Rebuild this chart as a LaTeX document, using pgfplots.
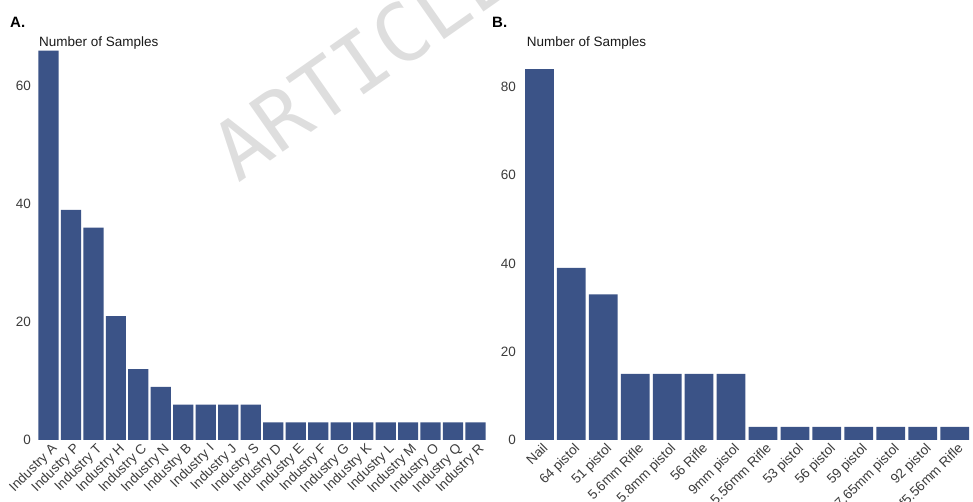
\documentclass[border=0pt]{standalone}
\usepackage{pgfplots}
\pgfplotsset{compat=1.18}
\usepackage{fontspec}
\setmainfont{Liberation Sans}
\newfontfamily\wmfont{DejaVu Sans Mono}
\definecolor{barblue}{RGB}{59,83,135}
\definecolor{ticktext}{RGB}{60,60,60}
\definecolor{wm}{RGB}{222,222,222}
\pgfplotsset{
  panel/.style={
    anchor=south west, scale only axis,
    ybar, bar width=0.9,
    ymin=0,
    axis line style={draw=none},
    major tick length=0pt,
    tick style={draw=none},
    /pgf/number format/assume math mode=true,
    tick label style={font=\fontsize{13.5}{16}\selectfont, text=ticktext},
    yticklabel style={anchor=east, inner sep=0pt, xshift=-6pt},
    xticklabel style={rotate=45, anchor=north east, inner sep=0pt, yshift=-3pt},
    clip=false,
  }
}
\begin{document}
\begin{tikzpicture}[x=1pt,y=1pt]
\useasboundingbox (0,0) rectangle (973,502);
\begin{scope}
\clip (0,0) rectangle (973,502);
\node[anchor=base west, rotate=35, text=wm, inner sep=0pt, font=\fontsize{81}{81}\selectfont\wmfont] at (238,318) {ARTICLE};
\end{scope}
% Panel A
\begin{axis}[panel, at={(37.2pt,62pt)}, width=449.6pt, height=389.4pt,
  xmin=-0.5, xmax=19.5, ymax=66,
  ytick={0,20,40,60},
  xtick={0,...,19},
  xticklabels={Industry A,Industry P,Industry T,Industry H,Industry C,Industry N,Industry B,Industry I,Industry J,Industry S,Industry D,Industry E,Industry F,Industry G,Industry K,Industry L,Industry M,Industry O,Industry Q,Industry R}]
\addplot[fill=barblue, draw=none] coordinates {(0,66) (1,39) (2,36) (3,21) (4,12) (5,9) (6,6) (7,6) (8,6) (9,6) (10,3) (11,3) (12,3) (13,3) (14,3) (15,3) (16,3) (17,3) (18,3) (19,3)};
\end{axis}
% Panel B
\begin{axis}[panel, at={(523.4pt,62pt)}, width=447.2pt, height=370.9pt,
  xmin=-0.5, xmax=13.5, ymax=84,
  ytick={0,20,40,60,80},
  yticklabel style={xshift=-1.4pt},
  xtick={0,...,13},
  xticklabels={Nail,64 pistol,51 pistol,5.6mm Rifle,5.8mm pistol,56 Rifle,9mm pistol,5.56mm Rifle,53 pistol,56 pistol,59 pistol,7.65mm pistol,92 pistol,f5.56mm Rifle}]
\addplot[fill=barblue, draw=none] coordinates {(0,84) (1,39) (2,33) (3,15) (4,15) (5,15) (6,15) (7,3) (8,3) (9,3) (10,3) (11,3) (12,3) (13,3)};
\end{axis}
\node[anchor=base west, inner sep=0pt, font=\fontsize{13.5}{16}\selectfont, text=black!90] at (39,455.5) {Number of Samples};
\node[anchor=base west, inner sep=0pt, font=\fontsize{13.5}{16}\selectfont, text=black!90] at (526.7,455.5) {Number of Samples};
\node[anchor=base west, inner sep=0pt, font=\fontsize{15}{18}\selectfont\bfseries] at (10,474.3) {A.};
\node[anchor=base west, inner sep=0pt, font=\fontsize{15}{18}\selectfont\bfseries] at (492,474.3) {B.};
\end{tikzpicture}
\end{document}
